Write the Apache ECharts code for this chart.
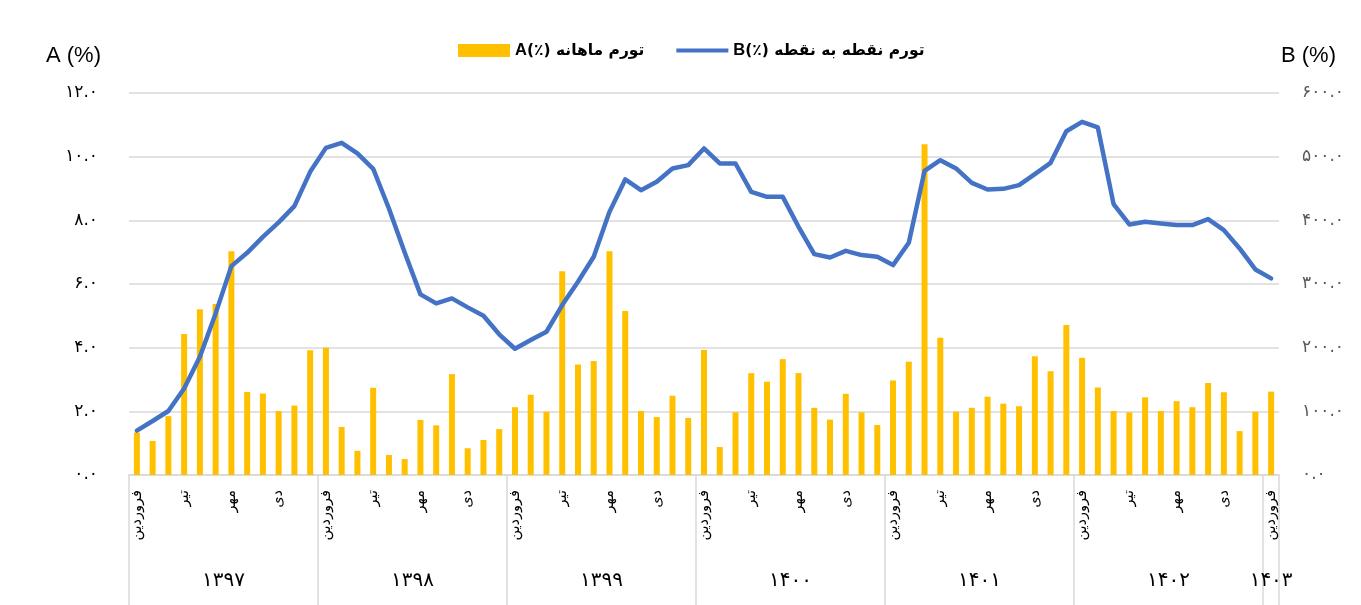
<!DOCTYPE html>
<html>
<head>
<meta charset="utf-8">
<script src="https://cdn.jsdelivr.net/npm/echarts@6/dist/echarts.min.js"></script>
<style>
html,body{margin:0;padding:0;background:#fff;}
#chart{width:1361px;height:605px;}
</style>
</head>
<body>
<div id="chart"></div>
<script>
// ---- data ----
const years = ['1397','1398','1399','1400','1401','1402','1403'];
const monthNames = ['فروردین','اردیبهشت','خرداد','تیر','مرداد','شهریور','مهر','آبان','آذر','دی','بهمن','اسفند'];
const seriesAName = 'تورم ماهانه A(٪)';
const seriesBName = 'تورم نقطه به نقطه B(٪)';
// monthly inflation (A, %), Farvardin 1397 .. Farvardin 1403
const monthlyA = [1.33,1.07,1.85,4.43,5.21,5.37,7.03,2.61,2.56,2.01,2.18,3.92,
  4.00,1.51,0.76,2.74,0.63,0.50,1.73,1.56,3.17,0.84,1.10,1.44,
  2.13,2.52,1.99,6.40,3.47,3.58,7.03,5.15,2.01,1.82,2.49,1.79,
  3.93,0.88,1.97,3.20,2.93,3.64,3.20,2.11,1.74,2.55,1.97,1.57,
  2.97,3.56,10.39,4.31,1.99,2.11,2.46,2.24,2.16,3.73,3.26,4.71,
  3.68,2.75,2.01,1.97,2.44,2.01,2.32,2.13,2.89,2.60,1.38,1.99,
  2.62];
// point-to-point inflation (B, %)
const pointB = [69.6,84.8,100.5,136,185.7,253.8,328.1,349,374.1,396.7,422.3,476.2,
  513.8,521.7,505,481,418.6,349.6,283.7,269.5,277.4,263.3,250.1,221,
  198.3,211.9,225,266.9,303.5,342.7,413.3,464.2,447.4,460.5,481.5,486.7,
  512.9,489.3,489.3,444.8,436.9,436.9,389.8,346.9,341.7,352.1,345.4,342.7,
  329.7,364.7,477.7,494.5,481.5,458.9,448.5,449.5,455.3,472.5,490.3,540.0,
  554.7,545.9,425.4,393.5,397.7,395.1,392.5,392.5,401.9,384.6,355.9,322.9,
  308.8];
const axisAName = 'A (%)';
const axisBName = 'B (%)';

// ---- build categories ----
const categories = [];
const catYear = [];
for (let i = 0; i < monthlyA.length; i++) {
  categories.push(monthNames[i % 12]);
  catYear.push(years[Math.floor(i / 12)]);
}
const fa = s => String(s).replace(/[0-9]/g, d => '۰۱۲۳۴۵۶۷۸۹'[+d]);
const lastIdx = monthlyA.length - 1;
const lineIcon = 'path://M0,0L52,0L52,0.01Z M0,4.5L52,4.5L52,8.5L0,8.5Z M0,13L52,13L52,12.99Z';

const chart = echarts.init(document.getElementById('chart'), null, {renderer: 'canvas'});
chart.setOption({
  animation: false,
  grid: {left: 129, right: 82, top: 93, bottom: 130},
  legend: {
    top: 37, left: 453,
    itemWidth: 52, itemHeight: 13, itemGap: 32,
    data: [{name: seriesAName, icon: 'rect'}, {name: seriesBName, icon: lineIcon}],
    formatter: function (name) {
      return name === seriesAName ? '{a|A}(٪) تورم ماهانه' : '{a|B}(٪) تورم نقطه به نقطه';
    },
    textStyle: {
      color: '#000', fontSize: 15.5, fontWeight: 'bold', fontFamily: 'DejaVu Sans',
      rich: {a: {fontSize: 16.5, fontWeight: 'bold', fontFamily: 'Liberation Sans', color: '#000'}}
    }
  },
  xAxis: [{
    type: 'category', data: categories, gridIndex: 0, position: 'bottom',
    boundaryGap: true,
    axisLine: {show: true, lineStyle: {color: '#d9d9d9', width: 1.5}},
    axisTick: {show: false},
    axisLabel: {
      interval: function (i) { return i % 3 === 0; },
      rotate: 90, margin: 15, color: '#000', fontSize: 14.5, fontFamily: 'DejaVu Sans'
    },
    splitLine: {show: false}
  }, {
    type: 'category', data: catYear, gridIndex: 0, position: 'bottom',
    boundaryGap: true,
    axisLine: {show: false}, axisTick: {show: false},
    axisLabel: {
      interval: function (i) { return i % 12 === 6 || i === lastIdx; },
      margin: 96, color: '#000', fontSize: 20, fontFamily: 'DejaVu Sans',
      formatter: function (v, i) {
        return i === lastIdx ? '{z|' + fa(v) + '}' : '{y|' + fa(v) + '}';
      },
      rich: {
        y: {fontSize: 20, fontFamily: 'DejaVu Sans', color: '#000', padding: [0, 16, 0, 0]},
        z: {fontSize: 20, fontFamily: 'DejaVu Sans', color: '#000'}
      }
    },
    splitLine: {show: false}
  }, {
    // year separators: boundaries every 12 months plus the end of the last month
    type: 'value', gridIndex: 0, position: 'bottom', min: 0, max: categories.length, interval: 12,
    axisLine: {show: false},
    axisTick: {show: true, length: 130, lineStyle: {color: '#d9d9d9', width: 1.5}},
    axisLabel: {show: false},
    splitLine: {show: false}
  }],
  yAxis: [{
    type: 'value', min: 0, max: 12, interval: 2, position: 'left',
    name: axisAName, nameLocation: 'end', nameGap: 26,
    nameTextStyle: {color: '#000', fontSize: 22, fontFamily: 'Liberation Sans', align: 'right', padding: [0, 28, 0, 0]},
    axisLine: {show: false}, axisTick: {show: false},
    axisLabel: {margin: 31, color: '#000', fontSize: 17, fontFamily: 'DejaVu Sans',
      padding: [0, 0, 7, 0],
      formatter: v => fa(v.toFixed(1))},
    splitLine: {show: true, lineStyle: {color: '#d9d9d9', width: 1.5}}
  }, {
    type: 'value', min: 0, max: 600, interval: 100, position: 'right',
    name: axisBName, nameLocation: 'end', nameGap: 26,
    nameTextStyle: {color: '#000', fontSize: 22, fontFamily: 'Liberation Sans', align: 'left', padding: [0, 0, 0, 2]},
    axisLine: {show: false}, axisTick: {show: false},
    axisLabel: {margin: 23, color: '#595959', fontSize: 17, fontFamily: 'DejaVu Sans',
      padding: [0, 0, 7, 0],
      formatter: v => fa(v.toFixed(1))},
    splitLine: {show: false}
  }],
  series: [{
    name: seriesAName, type: 'bar', xAxisIndex: 0, yAxisIndex: 0,
    data: monthlyA, barWidth: 6,
    itemStyle: {color: '#FFC000'}
  }, {
    name: seriesBName, type: 'line', xAxisIndex: 0, yAxisIndex: 1,
    data: pointB, symbol: 'none', showSymbol: false,
    lineStyle: {color: '#4472C4', width: 4.5, cap: 'round', join: 'round'},
    itemStyle: {color: '#4472C4'}
  }]
});
</script>
</body>
</html>
